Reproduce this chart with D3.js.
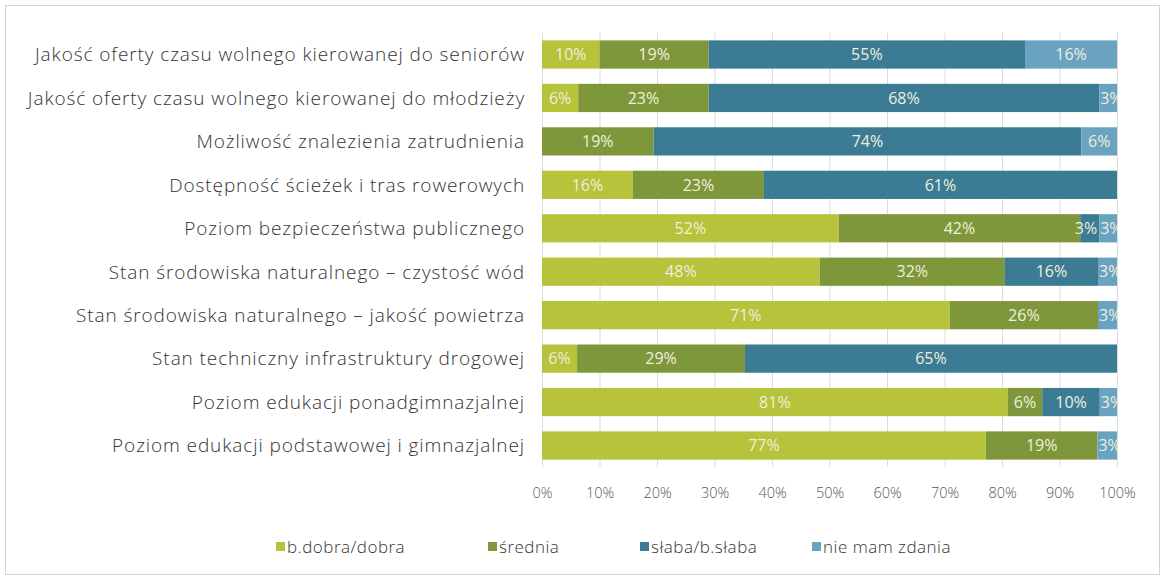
<!DOCTYPE html>
<html><head><meta charset="utf-8">
<script src="https://cdn.jsdelivr.net/npm/d3@7"></script>
<style>body{margin:0;background:#fff}svg{display:block}</style>
</head><body>
<script>
const categories = [
  "Jakość oferty czasu wolnego kierowanej do seniorów",
  "Jakość oferty czasu wolnego kierowanej do młodzieży",
  "Możliwość znalezienia zatrudnienia",
  "Dostępność ścieżek i tras rowerowych",
  "Poziom bezpieczeństwa publicznego",
  "Stan środowiska naturalnego – czystość wód",
  "Stan środowiska naturalnego – jakość powietrza",
  "Stan techniczny infrastruktury drogowej",
  "Poziom edukacji ponadgimnazjalnej",
  "Poziom edukacji podstawowej i gimnazjalnej"
];
const seriesNames = ["b.dobra/dobra", "średnia", "słaba/b.słaba", "nie mam zdania"];
const bdobra  = [10, 6.3, 0, 15.8, 51.6, 48.3, 70.9, 6.1, 81, 77.2];
const srednia = [19, 22.7, 19.4, 22.8, 42.0, 32.2, 25.8, 29.2, 6, 19.4];
const slaba   = [55, 67.9, 74.4, 61.4, 3.3, 16.2, 0, 64.7, 10, 0];
const brak    = [16, 3.1, 6.2, 0, 3.1, 3.3, 3.3, 0, 3, 3.4];
const tickValues = [0,10,20,30,40,50,60,70,80,90,100];
const colors = ["#b6c33b", "#7f973b", "#3c7b94", "#6aa3c2"];

const FONT = "'Open Sans', Lato, sans-serif";
const W = 1165, H = 580;
const svg = d3.select("body").append("svg").attr("width", W).attr("height", H);
svg.append("rect").attr("x",5.5).attr("y",5.5).attr("width",W-11).attr("height",H-11)
  .attr("fill","#fff").attr("stroke","#d4d4d4");

const x = d3.scaleLinear().domain([0,100]).range([542,1117]);
const y = d3.scaleBand().domain(categories).range([33,467]).paddingInner(0.35).paddingOuter(0.17);

svg.append("defs").append("clipPath").attr("id","plotclip")
  .append("rect").attr("x",x(0)).attr("y",0).attr("width",x(100)-x(0)+1).attr("height",H);

// gridlines
svg.append("g").selectAll("line").data(tickValues).join("line")
  .attr("x1", d=>x(d)+0.5).attr("x2", d=>x(d)+0.5)
  .attr("y1", 33).attr("y2", 467).attr("stroke","#dcdcdc").attr("stroke-width",1);

const table = categories.map((c,i)=>({cat:c, v:[bdobra[i], srednia[i], slaba[i], brak[i]]}));
const stacked = d3.stack().keys([0,1,2,3]).value((d,k)=>d.v[k])(table);

const fmt = v => Math.round(v) + "%";
const barG = svg.append("g");
stacked.forEach((layer,k)=>{
  barG.append("g").selectAll("rect").data(layer).join("rect")
    .attr("x", d=>x(d[0])).attr("width", d=>Math.max(0,x(d[1])-x(d[0])))
    .attr("y", d=>y(d.data.cat)).attr("height", y.bandwidth())
    .attr("fill", colors[k]);
});

// data labels, per row, nudged left to avoid overlaps; clipped at plot edge
const labG = svg.append("g").attr("clip-path","url(#plotclip)");
table.forEach((row,i)=>{
  const segs = stacked.map(layer=>layer[i]).filter(d=>d[1]-d[0]>0.5);
  const texts = segs.map(d=>labG.append("text")
    .attr("y", y(row.cat)+y.bandwidth()/2).attr("dy","0.36em")
    .attr("font-family",FONT).attr("font-size",16).attr("fill","#eef0dc")
    .text(fmt(d[1]-d[0])));
  const widths = texts.map(t=>t.node().getComputedTextLength());
  const lefts = segs.map((d,j)=>{
    const sw = x(d[1])-x(d[0]);
    return sw < widths[j] + 2 && j===segs.length-1 ? x(d[0])+1 : (x(d[0])+x(d[1]))/2 - widths[j]/2;
  });
  for (let j=segs.length-2;j>=0;j--){
    if (lefts[j]+widths[j] > lefts[j+1]-3) lefts[j] = lefts[j+1]-3-widths[j];
  }
  texts.forEach((t,j)=>t.attr("x", lefts[j]));
});

// category labels
svg.append("g").selectAll("text").data(categories).join("text")
  .attr("x", 525).attr("y", d=>y(d)+y.bandwidth()/2).attr("dy","0.36em")
  .attr("text-anchor","end").attr("font-family",FONT).attr("font-weight",300)
  .attr("font-size",19).attr("letter-spacing",0.9).attr("fill","#333").text(d=>d);

// x axis
const ax = svg.append("g").attr("transform","translate(0,485)")
  .call(d3.axisBottom(x).tickValues(tickValues).tickSize(0).tickFormat(d=>d+"%"));
ax.select(".domain").remove();
ax.selectAll("text").attr("font-family",FONT).attr("font-weight",300).attr("font-size",14.5)
  .attr("fill","#555");

// legend
const legX = [276, 488, 640, 812];
const lg = svg.append("g").selectAll("g").data(seriesNames).join("g")
  .attr("transform",(d,i)=>`translate(${legX[i]},547)`);
lg.append("rect").attr("x",0).attr("y",-5).attr("width",9).attr("height",9).attr("fill",(d,i)=>colors[i]);
lg.append("text").attr("x",11).attr("y",0).attr("dy","0.36em")
  .attr("font-family",FONT).attr("font-weight",300).attr("font-size",17).attr("letter-spacing",0.5)
  .attr("fill","#333").text(d=>d);
</script>
</body></html>
